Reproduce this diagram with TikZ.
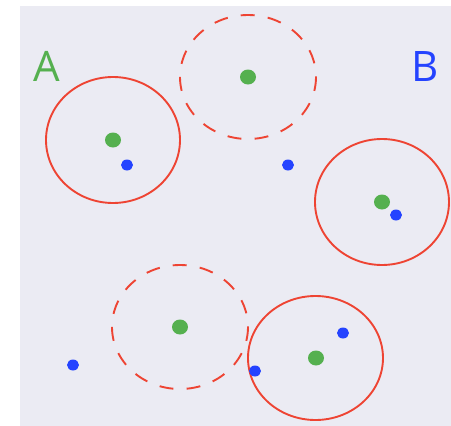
\documentclass[tikz,border=0pt]{standalone}
\usepackage{fontspec}
\setmainfont{Open Sans}
\definecolor{bgc}{HTML}{EBEBF3}
\definecolor{gdot}{HTML}{55B04F}
\definecolor{bdot}{HTML}{2443FF}
\definecolor{rline}{HTML}{EE4433}
\begin{document}
\begin{tikzpicture}[x=1pt,y=-1pt,
  ring/.style={draw=rline,line width=1.9pt},
  dring/.style={ring,dash pattern=on 14pt off 13.2pt},
  gpt/.style={fill=gdot,draw=none},
  bpt/.style={fill=bdot,draw=none},
  lbl/.style={font=\fontsize{42}{42}\selectfont,inner sep=0pt,anchor=base}]
\useasboundingbox (0,0) rectangle (451,426);
\fill[white] (0,0) rectangle (451,426);
\fill[bgc] (20,6) rectangle (451,426);
% rings
\draw[ring] (113,140) ellipse [x radius=67, y radius=63];
\draw[dring] (248,77) ellipse [x radius=68, y radius=62];
\draw[ring] (382,202) ellipse [x radius=67, y radius=63];
\draw[dring] (180,327) ellipse [x radius=68, y radius=62];
\draw[ring] (315.5,358) ellipse [x radius=67.5, y radius=62];
% green dots
\fill[gpt] (113,140) ellipse [x radius=8, y radius=7.5];
\fill[gpt] (248,77) ellipse [x radius=8, y radius=7.5];
\fill[gpt] (382,202) ellipse [x radius=8, y radius=7.5];
\fill[gpt] (180,327) ellipse [x radius=8, y radius=7.5];
\fill[gpt] (316,358) ellipse [x radius=8, y radius=7.5];
% blue dots
\fill[bpt] (127,165) ellipse [x radius=6, y radius=5.5];
\fill[bpt] (288,165) ellipse [x radius=6, y radius=5.5];
\fill[bpt] (396,215) ellipse [x radius=6, y radius=5.5];
\fill[bpt] (73,365) ellipse [x radius=6, y radius=5.5];
\fill[bpt] (343,333) ellipse [x radius=6, y radius=5.5];
\fill[bpt] (255,371) ellipse [x radius=6, y radius=5.5];
% labels
\node[lbl,text=gdot] (la) at (46.5,81) {A};
\node[lbl,text=bdot] (lb) at (425,81) {B};
\end{tikzpicture}
\end{document}
